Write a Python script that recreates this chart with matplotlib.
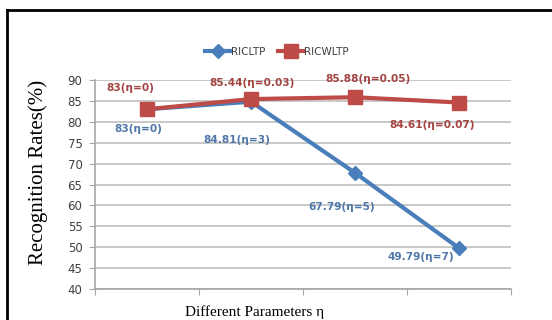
import matplotlib
matplotlib.use("Agg")
import matplotlib.pyplot as plt
from matplotlib.lines import Line2D

# data
categories = ["eta1", "eta2", "eta3", "eta4"]
ricltp = [83, 84.81, 67.79, 49.79]
ricwltp = [83, 85.44, 85.88, 84.61]
ricltp_labels = ["83(η=0)", "84.81(η=3)", "67.79(η=5)", "49.79(η=7)"]
ricwltp_labels = ["83(η=0)", "85.44(η=0.03)", "85.88(η=0.05)", "84.61(η=0.07)"]
yticks = list(range(40, 91, 5))

# label offsets in pixels (dx, dy up)
ricltp_off = [(-9, -20), (-14, -38), (-13, -34), (-38, -9)]
ricwltp_off = [(-17, 21), (1, 16), (13, 18), (-27, -22)]

blue = "#4A7EBB"
red = "#BE4B48"
blue_txt = "#4F77A8"
red_txt = "#A34441"
grid_c = "#C4C4C4"
tick_c = "#404040"

fig = plt.figure(figsize=(5.52, 3.2), dpi=100)
ax = fig.add_axes([95 / 552, 1 - 289 / 320, 416 / 552, 209 / 320])

x = list(range(len(categories)))
ax.plot(x, ricltp, color=blue, lw=3, marker="D", ms=7, label="RICLTP", zorder=3)
ax.plot(x, ricwltp, color=red, lw=3, marker="s", ms=10, label="RICWLTP", zorder=4)

for xi, v, t, (dx, dy) in zip(x, ricwltp, ricwltp_labels, ricwltp_off):
    ax.annotate(t, (xi, v), xytext=(dx, dy), textcoords="offset pixels",
                ha="center", va="center", fontsize=7.6, fontweight="bold",
                color=red_txt, family="DejaVu Sans", zorder=5)
for xi, v, t, (dx, dy) in zip(x, ricltp, ricltp_labels, ricltp_off):
    ax.annotate(t, (xi, v), xytext=(dx, dy), textcoords="offset pixels",
                ha="center", va="center", fontsize=7.6, fontweight="bold",
                color=blue_txt, family="DejaVu Sans", zorder=5)

ax.set_xlim(-0.5, len(categories) - 0.5)
ax.set_ylim(40, 90)
ax.set_yticks(yticks)
ax.set_xticks([i - 0.5 for i in range(len(categories) + 1)])
ax.set_xticklabels([])
ax.yaxis.grid(True, color=grid_c, lw=1.3)
ax.set_axisbelow(True)
for s in ["top", "right"]:
    ax.spines[s].set_visible(False)
for s in ["left", "bottom"]:
    ax.spines[s].set_color("#A6A6A6")
    ax.spines[s].set_linewidth(1.2)
ax.tick_params(axis="both", direction="out", length=4, color="#A6A6A6",
               labelsize=8.5, labelcolor=tick_c, pad=5)

fig.legend(loc="center", bbox_to_anchor=(277 / 552, 1 - 52 / 320), ncol=2,
           frameon=False, fontsize=7.5, handlelength=2.4, columnspacing=1.2,
           handletextpad=0.1, labelcolor="#404040")

fig.text(38 / 552, 1 - 172 / 320, "Recognition Rates(%)", rotation=90,
         ha="center", va="center", fontsize=15, family="Liberation Serif")
fig.text(255 / 552, 1 - 312 / 320, "Different Parameters η",
         ha="center", va="center", fontsize=11, family="Liberation Serif")

# outer frame
fx, fy = 7 / 552, 1 - 10 / 320
fig.add_artist(Line2D([fx, fx], [0, fy], color="black", lw=2, transform=fig.transFigure))
fig.add_artist(Line2D([fx, 1], [fy, fy], color="black", lw=2, transform=fig.transFigure))

fig.savefig("out.png", dpi=100)
